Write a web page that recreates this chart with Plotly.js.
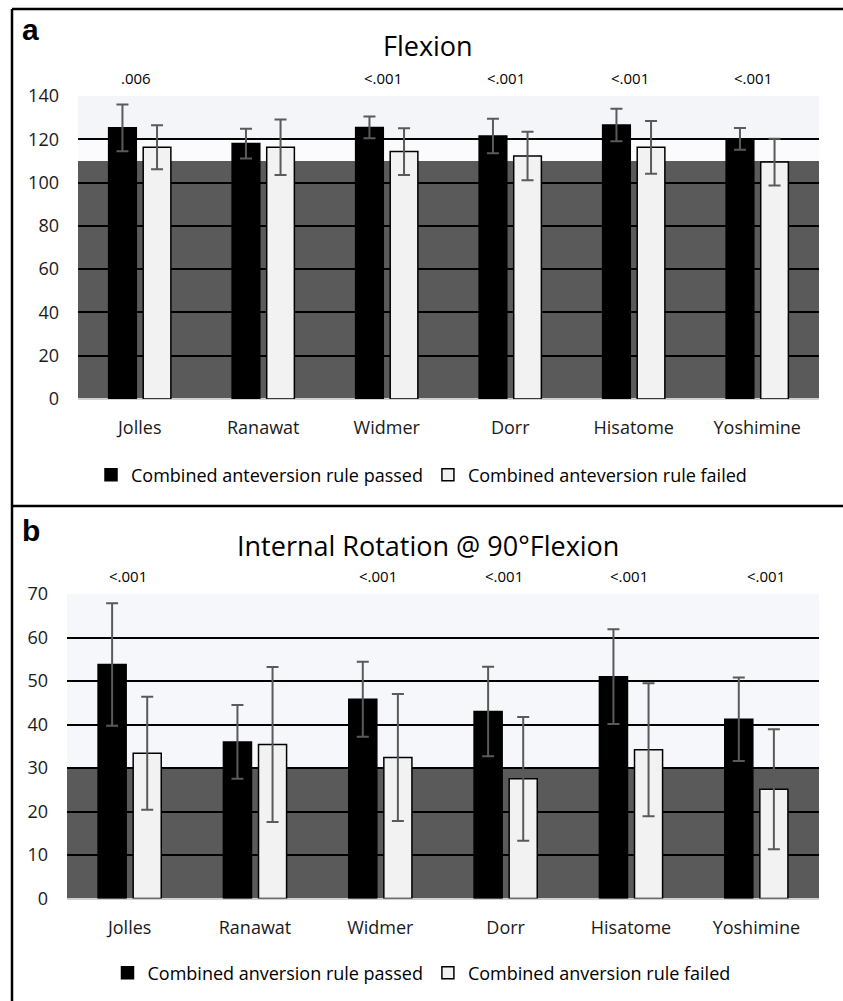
<!DOCTYPE html>
<html>
<head>
<meta charset="utf-8">
<script src="https://cdn.plot.ly/plotly-3.0.1.min.js"></script>
<style>html,body{margin:0;padding:0;background:#fff;}#chart{width:843px;height:1001px;}</style>
</head>
<body>
<div id="chart"></div>
<script>
const categories = ['Jolles','Ranawat','Widmer','Dorr','Hisatome','Yoshimine'];

const flexPassed   = [125.3, 118.0, 125.5, 121.5, 126.6, 120.2];
const flexPassedSD = [10.8, 6.9, 5.0, 8.0, 7.5, 5.0];
const flexFailed   = [116.3, 116.3, 114.3, 112.3, 116.3, 109.5];
const flexFailedSD = [10.2, 12.8, 10.8, 11.2, 12.2, 10.8];
const flexP        = ['.006', '', '<.001', '<.001', '<.001', '<.001'];

const irPassed   = [53.8, 36.0, 45.8, 43.0, 51.0, 41.2];
const irPassedSD = [14.1, 8.5, 8.6, 10.3, 10.9, 9.6];
const irFailed   = [33.4, 35.4, 32.4, 27.5, 34.2, 25.1];
const irFailedSD = [13.0, 17.8, 14.6, 14.2, 15.3, 13.8];
const irP        = ['<.001', '', '<.001', '<.001', '<.001', '<.001'];

const FONT = '"Open Sans", "Noto Sans", sans-serif';
const errStyle = {type: 'data', visible: true, color: '#5a5a5a', thickness: 2, width: 6};

function barTrace(y, sd, name, fill, xa, ya, legend) {
  return {
    type: 'bar', x: categories, y: y, name: name,
    xaxis: xa, yaxis: ya, legend: legend,
    marker: {color: fill, line: {color: '#000', width: 1.5}},
    error_y: Object.assign({array: sd}, errStyle),
    hoverinfo: 'skip'
  };
}

const data = [
  barTrace(flexPassed, flexPassedSD, 'Combined anteversion rule passed', '#000000', 'x', 'y', 'legend'),
  barTrace(flexFailed, flexFailedSD, 'Combined anteversion rule failed', '#f2f2f2', 'x', 'y', 'legend'),
  barTrace(irPassed, irPassedSD, 'Combined anversion rule passed', '#000000', 'x2', 'y2', 'legend2'),
  barTrace(irFailed, irFailedSD, 'Combined anversion rule failed', '#f2f2f2', 'x2', 'y2', 'legend2')
];

function xAxis(domain, anchor) {
  return {
    domain: domain, anchor: anchor, type: 'category',
    showgrid: false, showline: false, ticks: '', zeroline: false,
    tickfont: {family: FONT, size: 18, color: '#1a1a1a'},
    ticklabelstandoff: 16, fixedrange: true
  };
}
function yAxis(domain, anchor, range, dtick) {
  return {
    domain: domain, anchor: anchor, range: range, dtick: dtick,
    showgrid: true, gridcolor: '#000', gridwidth: 2,
    zeroline: true, zerolinecolor: '#d0d0d0', zerolinewidth: 2,
    showline: false, ticks: '',
    tickfont: {family: FONT, size: 18, color: '#1a1a1a'},
    ticklabelstandoff: 18, fixedrange: true
  };
}

const annotations = [];
categories.forEach((c, i) => {
  if (flexP[i]) annotations.push({xref: 'x', yref: 'y', x: c, y: 140, text: flexP[i], showarrow: false,
    yanchor: 'bottom', yshift: 6, xshift: -4, font: {family: FONT, size: 15, color: '#000'}});
  if (irP[i]) annotations.push({xref: 'x2', yref: 'y2', x: c, y: 70, text: irP[i], showarrow: false,
    yanchor: 'bottom', yshift: 6, xshift: (i === 5 ? 10 : -2), font: {family: FONT, size: 15, color: '#000'}});
});
annotations.push(
  {xref: 'paper', yref: 'paper', x: 428/843, y: 1 - 45/1001, text: 'Flexion', showarrow: false,
   xanchor: 'center', yanchor: 'middle', font: {family: FONT, size: 27, color: '#000'}},
  {xref: 'paper', yref: 'paper', x: 428/843, y: 1 - 545/1001, text: 'Internal Rotation @ 90°Flexion', showarrow: false,
   xanchor: 'center', yanchor: 'middle', font: {family: FONT, size: 27, color: '#000'}},
  {xref: 'paper', yref: 'paper', x: 20/843, y: 1 - 30/1001, text: '<b>a</b>', showarrow: false,
   xanchor: 'left', yanchor: 'middle', font: {family: 'Liberation Sans, Arial, sans-serif', size: 30, color: '#000'}},
  {xref: 'paper', yref: 'paper', x: 20/843, y: 1 - 530/1001, text: '<b>b</b>', showarrow: false,
   xanchor: 'left', yanchor: 'middle', font: {family: 'Liberation Sans, Arial, sans-serif', size: 30, color: '#000'}}
);

const shapes = [
  {type: 'rect', xref: 'x domain', yref: 'y', x0: 0, x1: 1, y0: 0, y1: 110, fillcolor: '#5a5a5a', line: {width: 0}, layer: 'below'},
  {type: 'rect', xref: 'x domain', yref: 'y', x0: 0, x1: 1, y0: 110, y1: 120, fillcolor: '#fbfbfd', line: {width: 0}, layer: 'below'},
  {type: 'rect', xref: 'x domain', yref: 'y', x0: 0, x1: 1, y0: 120, y1: 140, fillcolor: '#f3f5f9', line: {width: 0}, layer: 'below'},
  {type: 'rect', xref: 'x2 domain', yref: 'y2', x0: 0, x1: 1, y0: 0, y1: 30, fillcolor: '#5a5a5a', line: {width: 0}, layer: 'below'},
  {type: 'rect', xref: 'x2 domain', yref: 'y2', x0: 0, x1: 1, y0: 30, y1: 70, fillcolor: '#f5f7fa', line: {width: 0}, layer: 'below'},
  // panel frame lines
  {type: 'line', xref: 'paper', yref: 'paper', x0: 12/843, x1: 1, y0: 1 - 9/1001, y1: 1 - 9/1001, line: {color: '#000', width: 2.5}},
  {type: 'line', xref: 'paper', yref: 'paper', x0: 12/843, x1: 1, y0: 1 - 506/1001, y1: 1 - 506/1001, line: {color: '#000', width: 2.5}},
  {type: 'line', xref: 'paper', yref: 'paper', x0: 12/843, x1: 12/843, y0: 0, y1: 1 - 9/1001, line: {color: '#000', width: 2.5}}
];

const layout = {
  width: 843, height: 1001,
  margin: {l: 0, r: 0, t: 0, b: 0},
  paper_bgcolor: '#fff', plot_bgcolor: 'rgba(0,0,0,0)',
  showlegend: true,
  barmode: 'group', bargap: 0.44, bargroupgap: 0.2,
  xaxis: xAxis([78/843, 819/843], 'y'),
  yaxis: yAxis([1 - 399/1001, 1 - 96/1001], 'x', [0, 140], 20),
  xaxis2: xAxis([67/843, 819/843], 'y2'),
  yaxis2: yAxis([1 - 898.5/1001, 1 - 594/1001], 'x2', [0, 70], 10),
  legend: {orientation: 'h', x: 0.5, xanchor: 'center', y: 1 - 475/1001, yanchor: 'middle',
    font: {family: FONT, size: 18, color: '#000'}, bgcolor: 'rgba(0,0,0,0)', itemwidth: 30},
  legend2: {orientation: 'h', x: 0.5, xanchor: 'center', y: 1 - 973/1001, yanchor: 'middle',
    font: {family: FONT, size: 18, color: '#000'}, bgcolor: 'rgba(0,0,0,0)', itemwidth: 30},
  annotations: annotations,
  shapes: shapes
};

Plotly.newPlot('chart', data, layout, {staticPlot: true, displayModeBar: false});
</script>
</body>
</html>
